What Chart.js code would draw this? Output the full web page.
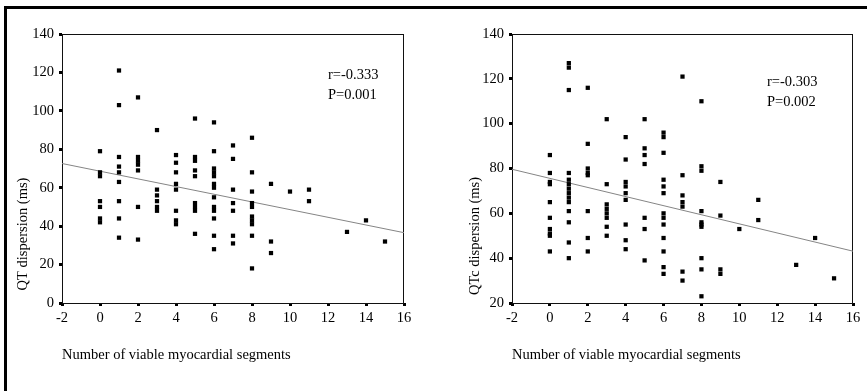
<!DOCTYPE html>
<html>
<head>
<meta charset="utf-8">
<script src="https://cdn.jsdelivr.net/npm/chart.js@4.4.1/dist/chart.umd.min.js"></script>
<style>
  body { margin: 0; background: #fff; width: 867px; height: 391px; position: relative; overflow: hidden; }
  #frame { position: absolute; left: 4px; top: 6px; width: 880px; height: 400px; border-left: 3px solid #000; border-top: 3px solid #000; pointer-events: none; }
  .wrap { position: absolute; top: 0; height: 391px; }
</style>
</head>
<body>
<div class="wrap" style="left:0;width:433px"><canvas id="qtChart" width="433" height="391"></canvas></div>
<div class="wrap" style="left:433px;width:434px"><canvas id="qtcChart" width="434" height="391"></canvas></div>
<div id="frame"></div>
<script>
// number of viable segments (x) and the measured values at each
const segments = [0, 1, 2, 3, 4, 5, 6, 7, 8, 9, 10, 11, 13, 14, 15];

const qtValues = [
  [79, 68, 66, 53, 50, 44, 42],
  [121, 103, 76, 71, 68, 63, 53, 44, 34],
  [107, 76, 74, 72, 69, 50, 33],
  [90, 59, 56, 53, 50, 48],
  [77, 73, 68, 62, 59, 48, 43, 41],
  [96, 76, 74, 69, 66, 52, 50, 48, 36],
  [94, 79, 70, 68, 66, 62, 60, 55, 50, 48, 44, 35, 28],
  [82, 75, 59, 52, 48, 35, 31],
  [86, 68, 58, 52, 50, 45, 43, 41, 35, 18],
  [62, 32, 26],
  [58],
  [59, 53],
  [37],
  [43],
  [32]
];

const qtcValues = [
  [86, 78, 74, 73, 65, 58, 53, 51, 50, 43],
  [127, 125, 115, 78, 75, 73, 71, 69, 67, 65, 61, 56, 47, 40],
  [116, 91, 80, 78, 77, 61, 49, 43],
  [102, 73, 64, 62, 60, 58, 54, 50],
  [94, 84, 74, 72, 69, 66, 55, 48, 44],
  [102, 89, 86, 82, 58, 53, 39],
  [96, 94, 87, 75, 72, 69, 60, 58, 55, 49, 43, 36, 33],
  [121, 77, 68, 65, 63, 34, 30],
  [110, 81, 79, 61, 56, 55, 54, 40, 35, 23],
  [74, 59, 35, 33],
  [53],
  [66, 57],
  [37],
  [49],
  [31]
];

// fitted regression lines (intercept, slope)
const qtFit = [68.6, -2.0];
const qtcFit = [75.6, -2.03];

const xRange = [-2, 16];
const qtRange = [0, 140];
const qtcRange = [20, 140];

const xTitle = "Number of viable myocardial segments";

const FONT = '"Liberation Serif", "Times New Roman", serif';
Chart.defaults.font.family = FONT;
Chart.defaults.font.size = 14.5;
Chart.defaults.color = "#000";

function toPoints(values) {
  const pts = [];
  segments.forEach((s, i) => values[i].forEach(v => pts.push({ x: s, y: v })));
  return pts;
}

function makeChart(id, cfg) {
  const textPlugin = {
    id: "texts",
    beforeDatasetsDraw(chart) {
      const a = chart.chartArea;
      const ctx = chart.ctx;
      ctx.save();
      ctx.strokeStyle = "#111";
      ctx.lineWidth = 1;
      ctx.strokeRect(a.left + 0.5, a.top + 0.5, a.right - a.left - 1, a.bottom - a.top);
      ctx.restore();
    },
    afterDraw(chart) {
      const ctx = chart.ctx;
      ctx.save();
      ctx.fillStyle = "#000";
      ctx.font = "14.5px " + FONT;
      ctx.textBaseline = "middle";
      ctx.textAlign = "left";
      ctx.fillText(cfg.rText, cfg.noteX, cfg.noteY);
      ctx.fillText(cfg.pText, cfg.noteX, cfg.noteY + 20);
      ctx.fillText(xTitle, chart.chartArea.left, 355);
      ctx.translate(cfg.yTitleX, cfg.yTitleY);
      ctx.rotate(-Math.PI / 2);
      ctx.textAlign = "center";
      ctx.fillText(cfg.yTitle, 0, 0);
      ctx.restore();
    }
  };

  new Chart(document.getElementById(id), {
    type: "scatter",
    data: {
      datasets: [
        {
          data: toPoints(cfg.values),
          pointStyle: "rect",
          pointRadius: 3,
          pointHoverRadius: 3,
          backgroundColor: "#000",
          borderWidth: 0
        },
        {
          type: "line",
          data: xRange.map(x => ({ x: x, y: cfg.fit[0] + cfg.fit[1] * x })),
          borderColor: "#858585",
          borderWidth: 1,
          pointRadius: 0,
          fill: false
        }
      ]
    },
    options: {
      responsive: false,
      animation: false,
      events: [],
      layout: { padding: { top: 34, right: cfg.padRight, left: 0, bottom: 0 } },
      plugins: { legend: { display: false }, tooltip: { enabled: false } },
      scales: {
        x: {
          type: "linear",
          min: xRange[0],
          max: xRange[1],
          afterFit: s => { s.height = 88; },
          border: { display: false },
          grid: { drawOnChartArea: false, tickLength: 3, tickWidth: 3, color: "#000" },
          ticks: { stepSize: 2, padding: 3, maxRotation: 0 }
        },
        y: {
          min: cfg.yRange[0],
          max: cfg.yRange[1],
          afterFit: s => { s.width = cfg.yWidth; },
          border: { display: false },
          grid: { drawOnChartArea: false, tickLength: 3, tickWidth: 3, color: "#000" },
          ticks: { stepSize: 20, padding: 5 }
        }
      }
    },
    plugins: [textPlugin]
  });
}

makeChart("qtChart", {
  values: qtValues, fit: qtFit, yRange: qtRange,
  yWidth: 62, padRight: 29,
  yTitle: "QT dispersion (ms)", yTitleX: 23, yTitleY: 234,
  rText: "r=-0.333", pText: "P=0.001", noteX: 328, noteY: 75
});

makeChart("qtcChart", {
  values: qtcValues, fit: qtcFit, yRange: qtcRange,
  yWidth: 79, padRight: 14,
  yTitle: "QTc dispersion (ms)", yTitleX: 42, yTitleY: 236,
  rText: "r=-0.303", pText: "P=0.002", noteX: 334, noteY: 82
});
</script>
</body>
</html>
